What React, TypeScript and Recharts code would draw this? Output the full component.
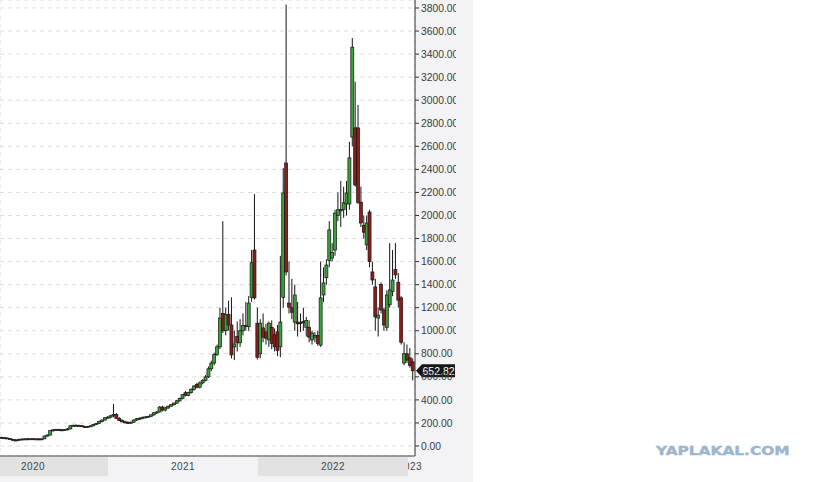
import React from "react";
import { Bar, CartesianGrid, ComposedChart, ReferenceArea, ReferenceLine, XAxis, YAxis } from "recharts";

// weekly candles, Apr 2020 .. Jan 2023
const opens = [
  75, 72, 70, 66, 58, 52, 50, 58, 60, 62, 60, 63, 61, 62, 56, 62, 86, 95, 135, 140,
  142, 140, 138, 142, 148, 175, 180, 178, 176, 168, 165, 170, 175, 188, 195, 212, 225, 245, 250, 262,
  272, 240, 222, 210, 205, 200, 206, 225, 236, 240, 248, 252, 256, 270, 288, 295, 338, 312, 330, 345,
  358, 372, 392, 412, 462, 440, 465, 492, 535, 510, 548, 570, 600, 670, 720, 795, 860, 1150, 1000, 1140,
  1050, 860, 950, 895, 1000, 1045, 1035, 1290, 1700, 1065, 800, 1025, 990, 920, 1030, 965, 990, 860, 1290, 2455,
  1240, 1200, 1075, 1075, 1070, 1070, 1030, 1030, 920, 945, 960, 875, 1310, 1460, 1610, 1630, 1700, 2000, 2050, 2050,
  2100, 2100, 2680, 2760, 2760, 2115, 1915, 1745, 2030, 1510, 1380, 1110, 1400, 1180, 1030, 1225, 1340, 1530, 1420, 1285,
  720, 800, 765, 730,
];
const highs = [
  82, 78, 74, 70, 62, 60, 62, 65, 66, 68, 66, 68, 67, 66, 64, 90, 100, 140, 148, 150,
  150, 148, 146, 155, 180, 185, 188, 185, 182, 176, 174, 180, 192, 200, 220, 230, 250, 260, 270, 365,
  285, 250, 232, 220, 215, 212, 230, 242, 248, 255, 258, 262, 275, 295, 300, 345, 350, 340, 350, 365,
  378, 398, 420, 450, 478, 470, 500, 530, 548, 560, 580, 615, 690, 740, 810, 880, 1200, 1950, 1200, 1260,
  1290, 1000, 1080, 1100, 1150, 1250, 1300, 1700, 2185, 1200, 1100, 1150, 1060, 1080, 1090, 1020, 1050, 1650, 2410, 3830,
  1600, 1450, 1400, 1250, 1150, 1200, 1120, 1090, 1000, 990, 1000, 1600, 1550, 1620, 1950, 1760, 2050, 2200, 2300, 2250,
  2300, 2640, 3540, 3160, 2960, 2250, 2000, 2000, 2050, 1600, 1450, 1200, 1420, 1200, 1350, 1760, 1700, 1760, 1500, 1300,
  900, 880, 850, 760,
];
const lows = [
  68, 65, 60, 55, 48, 46, 45, 52, 54, 56, 55, 57, 55, 50, 52, 60, 82, 92, 125, 132,
  135, 132, 130, 136, 145, 168, 170, 168, 164, 160, 158, 165, 170, 182, 190, 205, 220, 235, 240, 250,
  235, 215, 205, 195, 192, 194, 200, 218, 228, 232, 240, 244, 250, 262, 278, 290, 300, 300, 322, 338,
  350, 365, 385, 405, 430, 432, 455, 480, 500, 500, 535, 560, 590, 650, 700, 780, 840, 980, 960, 1000,
  760, 745, 820, 860, 960, 1000, 1000, 1250, 1270, 750, 760, 900, 880, 860, 840, 820, 780, 770, 1200, 1480,
  1150, 1100, 1000, 950, 990, 1000, 950, 900, 880, 900, 870, 860, 1250, 1400, 1550, 1600, 1650, 1950, 1900, 1980,
  2000, 2050, 2600, 2250, 2100, 1900, 1800, 1700, 1550, 1400, 1000, 950, 1150, 1000, 1000, 1200, 1300, 1450, 1200, 880,
  700, 720, 680, 570,
];
const closes = [
  72, 70, 66, 58, 52, 50, 58, 60, 62, 60, 63, 61, 62, 56, 62, 86, 95, 135, 140, 142,
  140, 138, 142, 148, 175, 180, 178, 176, 168, 165, 170, 175, 188, 195, 212, 225, 245, 250, 262, 272,
  240, 222, 210, 205, 200, 206, 225, 236, 240, 248, 252, 256, 270, 288, 295, 338, 312, 330, 345, 358,
  372, 392, 412, 445, 440, 465, 492, 520, 510, 548, 570, 600, 670, 720, 795, 860, 1110, 1000, 1140, 1050,
  790, 885, 895, 1000, 1045, 1040, 1240, 1590, 1285, 770, 1065, 945, 935, 1065, 890, 860, 830, 1075, 2195, 1510,
  1205, 1160, 1310, 1060, 1065, 1080, 1090, 945, 980, 960, 890, 1285, 1415, 1570, 1875, 1680, 2020, 2050, 2040, 2110,
  2195, 2500, 3460, 2265, 2115, 1935, 1855, 1935, 1600, 1440, 1120, 1135, 1180, 1050, 1310, 1355, 1440, 1485, 1265, 900,
  800, 745, 700, 652.82,
];

const priceTicks = [0, 200, 400, 600, 800, 1000, 1200, 1400, 1600, 1800, 2000, 2200, 2400, 2600, 2800, 3000, 3200, 3400, 3600, 3800];
const years = ["2020", "2021", "2022", "2023"];
const yearStartWeeks = [-14.6, 37.54, 89.68, 141.82, 193.96];
const gridWeeks = [33.72, 85.86, 138.0];

const data = opens.map((open, i) => ({ t: i + 0.5, open, high: highs[i], low: lows[i], close: closes[i] }));
const lastPrice = closes[closes.length - 1];

const FONT = "'Liberation Sans', Arial, sans-serif";
const PLOT_RIGHT = 415;
const Y_DOMAIN: [number, number] = [-86.76, 3869.4];
// band under the plot, in price units (just below the domain floor)
const BAND_TOP = -95.4;
const BAND_BOTTOM = -262;

function Candle(props: any) {
  const { x, y, width, height, payload } = props;
  const { open, close, high, low } = payload;
  const cx = x + width / 2;
  const span = high - low || 1;
  const py = (v: number) => y + ((high - v) / span) * height;
  const top = py(Math.max(open, close));
  const bottom = py(Math.min(open, close));
  const up = close >= open;
  return (
    <g>
      <line x1={cx} x2={cx} y1={y} y2={y + height} stroke="#151515" strokeWidth={1} />
      <rect
        x={cx - 1.5}
        y={top}
        width={3}
        height={Math.max(bottom - top, 1)}
        fill={up ? "#38a338" : "#8e1c1c"}
        stroke="#151515"
        strokeWidth={0.7}
      />
    </g>
  );
}

function YearLabel(props: any) {
  const { viewBox, value, idx } = props;
  const cx = Math.min(viewBox.x + viewBox.width / 2, PLOT_RIGHT - 5);
  const id = `yclip${idx}`;
  return (
    <g>
      <defs>
        <clipPath id={id}>
          <rect x={viewBox.x} y={viewBox.y} width={viewBox.width} height={viewBox.height} />
        </clipPath>
      </defs>
      <text
        x={cx}
        y={viewBox.y + viewBox.height / 2}
        dy="0.35em"
        textAnchor="middle"
        fontSize={10}
        letterSpacing={0.4}
        fill="#444"
        fontFamily={FONT}
        clipPath={`url(#${id})`}
      >
        {value}
      </text>
    </g>
  );
}

function PriceTag(props: any) {
  const { viewBox } = props;
  const x = viewBox.x + viewBox.width;
  const y = viewBox.y;
  return (
    <g>
      <path
        d={`M${x + 1},${y} L${x + 7},${y - 6.5} L${x + 40},${y - 6.5} L${x + 40},${y + 6.5} L${x + 7},${y + 6.5} Z`}
        fill="#161616"
      />
      <text x={x + 7.5} y={y} dy="0.36em" fontSize={10.5} fill="#fff" fontFamily={FONT}>
        {lastPrice.toFixed(2)}
      </text>
    </g>
  );
}

export default function App() {
  return (
    <div style={{ position: "absolute", left: 0, top: 0, width: 819, height: 482, background: "#fff", overflow: "hidden" }}>
      <div style={{ position: "absolute", left: 0, top: 0, width: 473, height: 482, background: "#f3f3f5" }}>
        <ComposedChart width={456} height={477} data={data} margin={{ top: 0, right: 0, bottom: 0, left: 0 }}>
          <CartesianGrid stroke="#dcdcdc" strokeDasharray="4 4" fill="#fff" fillOpacity={1} />
          <XAxis
            type="number"
            dataKey="t"
            domain={[0, 144.25]}
            allowDataOverflow
            ticks={gridWeeks}
            height={21}
            tick={false}
            tickSize={3}
            axisLine={{ stroke: "#444" }}
            tickLine={{ stroke: "#444" }}
          />
          <YAxis
            orientation="right"
            width={41}
            domain={Y_DOMAIN}
            allowDataOverflow
            ticks={priceTicks}
            interval={0}
            tickSize={4}
            tickFormatter={(v: number) => v.toFixed(2)}
            tick={{ fontSize: 10.3, fill: "#3a3a3a", fontFamily: FONT, textAnchor: "start" }}
            axisLine={{ stroke: "#333" }}
            tickLine={{ stroke: "#333" }}
          />
          {years.map((yr, i) => (
            <ReferenceArea
              key={yr}
              x1={yearStartWeeks[i]}
              x2={yearStartWeeks[i + 1]}
              y1={BAND_BOTTOM}
              y2={BAND_TOP}
              ifOverflow="visible"
              fill={i % 2 === 0 ? "#e2e2e3" : "#f3f3f5"}
              fillOpacity={1}
              stroke="none"
              label={<YearLabel value={yr} idx={i} />}
            />
          ))}
          <Bar
            dataKey={(d: any) => [d.low, d.high]}
            barSize={3}
            shape={<Candle />}
            isAnimationActive={false}
          />
          <ReferenceLine y={lastPrice} stroke="none" label={<PriceTag />} />
        </ComposedChart>
      </div>
      <div
        style={{
          position: "absolute",
          left: 656,
          top: 444,
          fontFamily: "'DejaVu Sans', sans-serif",
          fontWeight: 900,
          fontSize: 12,
          letterSpacing: 0,
          color: "#9db5cd",
          transform: "scaleX(1.28)",
          transformOrigin: "left center",
          whiteSpace: "nowrap",
          WebkitTextStroke: "0.4px #9db5cd",
        }}
      >
        YAPLAKAL.COM
      </div>
    </div>
  );
}
